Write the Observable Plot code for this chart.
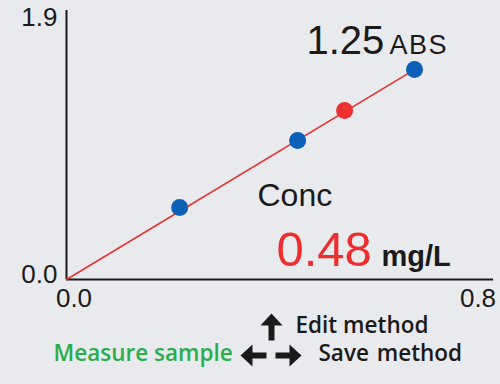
<!DOCTYPE html>
<html>
<head>
<meta charset="utf-8">
<script src="https://cdn.jsdelivr.net/npm/d3@7"></script>
<script src="https://cdn.jsdelivr.net/npm/@observablehq/plot@0.6"></script>
<style>
  html, body { margin: 0; padding: 0; background: #e8eaed; }
  #chart svg { display: block; background: #e8eaed; }
</style>
</head>
<body>
<div id="chart"></div>
<script>
// Calibration standards (concentration mg/L, absorbance ABS)
const stdConc = [0.212, 0.433, 0.652];
const stdAbs = [0.533, 1.028, 1.553];
// Measured sample
const sampleConc = [0.521];
const sampleAbs = [1.25];
// Calibration line endpoints
const lineConc = [0, 0.652];
const lineAbs = [0, 1.553];
// Axis ticks
const xTicks = [0, 0.8];
const yTicks = [0, 1.9];
// Readout texts
const absValue = ["1.25"];
const absUnit = ["ABS"];
const concLabel = ["Conc"];
const concValue = ["0.48"];
const concUnit = ["mg/L"];
const menuUp = ["Edit method"];
const menuRight = ["Save method"];
const menuLeft = ["Measure sample"];

const standards = stdConc.map((c, i) => ({conc: c, abs: stdAbs[i]}));
const samples = sampleConc.map((c, i) => ({conc: c, abs: sampleAbs[i]}));
const calib = lineConc.map((c, i) => ({conc: c, abs: lineAbs[i]}));

const sans = "'Liberation Sans', Arial, sans-serif";
const ui = "'Open Sans', sans-serif";

// filled block arrow shape for Plot.vector (points "up" before rotation)
const blockArrow = {
  draw(context, l) {
    const hw = 11, hl = 12, sw = 3;
    context.moveTo(-sw, 0);
    context.lineTo(-sw, -(l - hl));
    context.lineTo(-hw, -(l - hl));
    context.lineTo(0, -l);
    context.lineTo(hw, -(l - hl));
    context.lineTo(sw, -(l - hl));
    context.lineTo(sw, 0);
    context.closePath();
  }
};
const arrowStyle = {frameAnchor: "top-left", shape: blockArrow, anchor: "middle", fill: "#1a1a1a", stroke: "none"};

const chart = Plot.plot({
  width: 500,
  height: 384,
  marginLeft: 66,
  marginRight: 7,
  marginTop: 10,
  marginBottom: 105,
  style: {background: "#e8eaed", fontFamily: sans, color: "#1a1a1a", overflow: "visible"},
  x: {domain: [0, 0.8]},
  y: {domain: [0, 1.99]},
  marks: [
    Plot.ruleX([0], {stroke: "#1a1a1a", strokeWidth: 2}),
    Plot.ruleY([0], {stroke: "#1a1a1a", strokeWidth: 2}),
    Plot.axisY(yTicks, {tickSize: 0, tickPadding: 9, fontSize: 26, dy: -5, tickFormat: d3.format(".1f"), label: null, fill: "#1a1a1a"}),
    Plot.axisX([xTicks[0]], {tickSize: 0, tickPadding: 9, fontSize: 26, dx: 7.5, tickFormat: d3.format(".1f"), label: null, fill: "#1a1a1a"}),
    Plot.axisX([xTicks[1]], {tickSize: 0, tickPadding: 9, fontSize: 26, dx: -15.5, tickFormat: d3.format(".1f"), label: null, fill: "#1a1a1a"}),
    Plot.line(calib, {x: "conc", y: "abs", stroke: "#e8322f", strokeWidth: 1.6}),
    Plot.dot(standards, {x: "conc", y: "abs", r: 8.5, fill: "#0b5fb6"}),
    Plot.dot(samples, {x: "conc", y: "abs", r: 8.5, fill: "#ee3030"}),
    Plot.text(absValue, {text: d => d, frameAnchor: "top-left", textAnchor: "start", lineAnchor: "bottom", dx: 240, dy: 43, fontSize: 40, fill: "#1a1a1a"}),
    Plot.text(absUnit, {text: d => d, frameAnchor: "top-left", textAnchor: "start", lineAnchor: "bottom", dx: 323, dy: 43, fontSize: 27, fill: "#1a1a1a"}),
    Plot.text(concLabel, {text: d => d, frameAnchor: "top-left", textAnchor: "start", lineAnchor: "bottom", dx: 191, dy: 195, fontSize: 32, fill: "#1a1a1a"}),
    Plot.text(concValue, {text: d => d, frameAnchor: "top-left", textAnchor: "start", lineAnchor: "bottom", dx: 210, dy: 255, fontSize: 49, fill: "#ee2e2e"}),
    Plot.text(concUnit, {text: d => d, frameAnchor: "top-left", textAnchor: "start", lineAnchor: "bottom", dx: 315, dy: 255, fontSize: 29, fontWeight: "bold", fill: "#1a1a1a"}),
    Plot.vector([0], {...arrowStyle, length: 27, rotate: 0, dx: 205, dy: 316.5}),
    Plot.vector([0], {...arrowStyle, length: 26, rotate: 270, dx: 187, dy: 345}),
    Plot.vector([0], {...arrowStyle, length: 26, rotate: 90, dx: 222, dy: 345}),
    Plot.text(menuUp, {text: d => d, frameAnchor: "top-left", textAnchor: "start", lineAnchor: "bottom", dx: 229, dy: 322, fontSize: 22.5, fontWeight: 600, fontFamily: ui, fill: "#1a1a1a"}),
    Plot.text(menuRight, {text: d => d, frameAnchor: "top-left", textAnchor: "start", lineAnchor: "bottom", dx: 252, dy: 350, fontSize: 22.5, fontWeight: 600, fontFamily: ui, fill: "#1a1a1a"}),
    Plot.text(menuLeft, {text: d => d, frameAnchor: "top-left", textAnchor: "start", lineAnchor: "bottom", dx: -13, dy: 350, fontSize: 22.5, fontWeight: 600, fontFamily: ui, fill: "#2aad4c"})
  ]
});
// typographic spacing tweaks
d3.select(chart).selectAll("text").each(function () {
  const t = this.textContent;
  if (t === "ABS") d3.select(this).attr("letter-spacing", 1.5);
  if (t === "Save method") d3.select(this).attr("word-spacing", 2);
});
document.getElementById("chart").append(chart);
</script>
</body>
</html>
